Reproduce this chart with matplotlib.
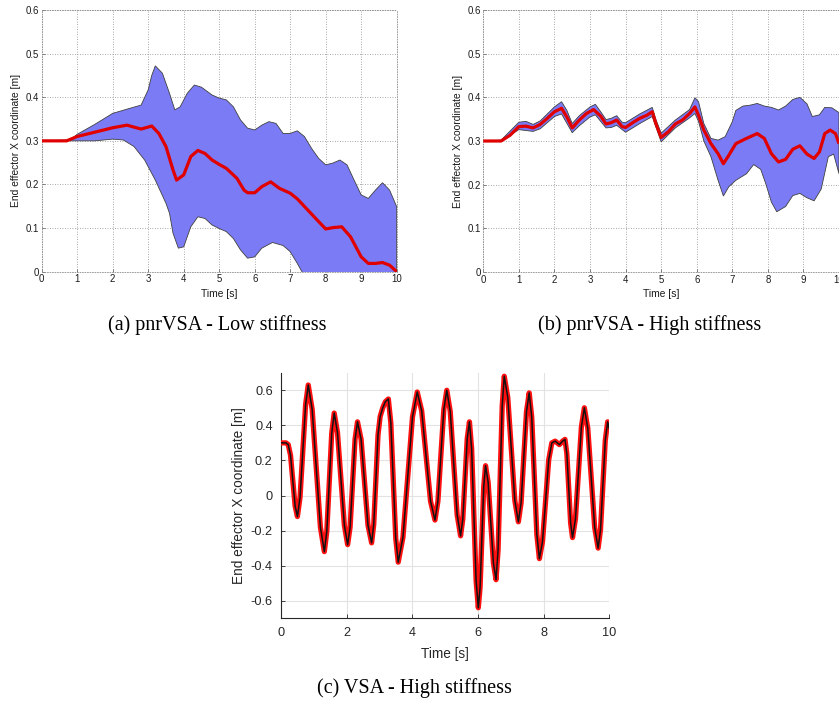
import numpy as np
import matplotlib
matplotlib.use("Agg")
import matplotlib.pyplot as plt

# ---------------- data ----------------
# (a) pnrVSA - Low stiffness
ta_mean = [0, 0.7, 1.0, 1.5, 1.75, 2.0, 2.4, 2.8, 3.1, 3.3, 3.5, 3.7, 3.8, 4.0, 4.2, 4.4, 4.6, 4.8, 5.0, 5.2,
           5.5, 5.7, 5.8, 6.0, 6.2, 6.45, 6.7, 7.0, 7.2, 7.5, 7.8, 8.0, 8.2, 8.45, 8.7, 9.0, 9.2, 9.4, 9.6, 9.8, 10.0]
a_mean = [0.300, 0.300, 0.310, 0.320, 0.325, 0.330, 0.336, 0.327, 0.334, 0.317, 0.287, 0.233, 0.210, 0.222, 0.264,
          0.278, 0.271, 0.256, 0.246, 0.237, 0.214, 0.187, 0.181, 0.181, 0.195, 0.206, 0.191, 0.180, 0.167, 0.141,
          0.115, 0.098, 0.101, 0.103, 0.080, 0.034, 0.019, 0.019, 0.021, 0.015, 0.000]
ta_up = [0, 0.8, 1.0, 1.5, 2.0, 2.5, 2.8, 3.0, 3.1, 3.2, 3.4, 3.6, 3.75, 3.9, 4.1, 4.3, 4.5, 4.8, 5.0, 5.2, 5.4,
         5.6, 5.8, 6.0, 6.2, 6.4, 6.6, 6.8, 7.0, 7.2, 7.4, 7.6, 7.8, 8.0, 8.2, 8.4, 8.6, 8.8, 9.0, 9.2, 9.4, 9.6,
         9.8, 10.0]
a_up = [0.300, 0.302, 0.315, 0.338, 0.363, 0.375, 0.382, 0.417, 0.450, 0.472, 0.455, 0.409, 0.371, 0.378, 0.409,
        0.428, 0.423, 0.405, 0.398, 0.394, 0.378, 0.348, 0.329, 0.325, 0.336, 0.344, 0.340, 0.317, 0.317, 0.323,
        0.310, 0.283, 0.260, 0.245, 0.249, 0.256, 0.245, 0.210, 0.176, 0.168, 0.187, 0.204, 0.187, 0.149]
ta_lo = [0, 1.5, 2.0, 2.3, 2.6, 2.9, 3.2, 3.5, 3.6, 3.7, 3.85, 4.0, 4.2, 4.4, 4.6, 4.8, 5.0, 5.2, 5.4, 5.6, 5.8,
         6.0, 6.2, 6.5, 6.8, 7.0, 7.2, 7.4, 7.7, 8.0, 8.5, 9.0, 9.5, 10.0]
a_lo = [0.300, 0.300, 0.304, 0.302, 0.287, 0.256, 0.210, 0.157, 0.134, 0.088, 0.054, 0.057, 0.103, 0.126, 0.122,
        0.107, 0.099, 0.092, 0.076, 0.050, 0.031, 0.034, 0.054, 0.067, 0.060, 0.046, 0.019, -0.010, -0.040,
        -0.070, -0.080, -0.100, -0.110, -0.120]

# (b) pnrVSA - High stiffness
tb_mean = [0, 0.5, 0.75, 1.0, 1.2, 1.4, 1.6, 1.8, 2.0, 2.2, 2.35, 2.5, 2.7, 2.9, 3.1, 3.3, 3.45, 3.6, 3.75, 3.9,
           4.0, 4.2, 4.4, 4.6, 4.75, 4.85, 5.0, 5.2, 5.4, 5.6, 5.8, 5.95, 6.05, 6.2, 6.4, 6.6, 6.75, 6.9, 7.1,
           7.4, 7.7, 7.9, 8.1, 8.3, 8.5, 8.7, 8.9, 9.1, 9.3, 9.45, 9.6, 9.75, 9.9, 10.0]
b_mean = [0.300, 0.300, 0.313, 0.333, 0.334, 0.330, 0.338, 0.352, 0.367, 0.375, 0.355, 0.330, 0.348, 0.363,
          0.372, 0.357, 0.339, 0.342, 0.348, 0.333, 0.331, 0.342, 0.352, 0.359, 0.367, 0.340, 0.308, 0.321,
          0.339, 0.348, 0.363, 0.378, 0.359, 0.325, 0.294, 0.271, 0.248, 0.267, 0.294, 0.306, 0.317, 0.306,
          0.271, 0.252, 0.258, 0.281, 0.289, 0.270, 0.260, 0.275, 0.317, 0.325, 0.317, 0.294]
tb_up = [0, 0.5, 1.0, 1.2, 1.4, 1.6, 2.0, 2.2, 2.35, 2.5, 2.7, 3.0, 3.15, 3.3, 3.45, 3.6, 3.75, 3.9, 4.0, 4.4,
         4.75, 4.85, 5.0, 5.4, 5.8, 5.95, 6.05, 6.2, 6.4, 6.6, 6.8, 7.0, 7.1, 7.3, 7.5, 7.7, 7.9, 8.1, 8.3, 8.5,
         8.7, 8.9, 9.1, 9.25, 9.45, 9.6, 9.8, 10.0]
b_up = [0.300, 0.302, 0.343, 0.345, 0.338, 0.346, 0.378, 0.390, 0.370, 0.340, 0.358, 0.378, 0.384, 0.367, 0.349,
        0.352, 0.358, 0.343, 0.342, 0.362, 0.377, 0.350, 0.318, 0.348, 0.372, 0.399, 0.390, 0.340, 0.306, 0.302,
        0.310, 0.344, 0.370, 0.380, 0.382, 0.386, 0.380, 0.377, 0.371, 0.380, 0.395, 0.400, 0.385, 0.356, 0.360,
        0.377, 0.376, 0.365]
tb_lo = [0, 0.5, 1.0, 1.4, 1.6, 2.0, 2.2, 2.5, 2.7, 3.0, 3.15, 3.45, 3.6, 3.75, 4.0, 4.4, 4.75, 5.0, 5.4, 5.8,
         5.95, 6.05, 6.2, 6.4, 6.6, 6.75, 6.9, 7.1, 7.4, 7.6, 7.8, 7.95, 8.1, 8.25, 8.5, 8.7, 8.9, 9.1, 9.3, 9.5,
         9.7, 9.85, 10.0]
b_lo = [0.300, 0.300, 0.326, 0.322, 0.328, 0.356, 0.362, 0.319, 0.335, 0.355, 0.360, 0.330, 0.331, 0.336, 0.320,
        0.340, 0.356, 0.298, 0.330, 0.353, 0.363, 0.345, 0.300, 0.264, 0.210, 0.174, 0.195, 0.210, 0.225, 0.246,
        0.235, 0.200, 0.160, 0.138, 0.150, 0.175, 0.180, 0.170, 0.163, 0.190, 0.264, 0.270, 0.225]

# (c) VSA - High stiffness
tc = [0.00, 0.15, 0.22, 0.29, 0.36, 0.43, 0.50, 0.58, 0.665, 0.75, 0.83, 0.95, 1.075, 1.20, 1.32, 1.395, 1.47,
      1.545, 1.62, 1.72, 1.825, 1.93, 2.03, 2.105, 2.18, 2.255, 2.33, 2.44, 2.545, 2.65, 2.76, 2.825, 2.89, 2.955,
      3.02, 3.10, 3.18, 3.27, 3.345, 3.42, 3.495, 3.57, 3.715, 3.86, 4.005, 4.15, 4.285, 4.42, 4.555, 4.69, 4.78,
      4.87, 4.96, 5.05, 5.155, 5.26, 5.365, 5.47, 5.5375, 5.605, 5.6725, 5.74, 5.8075, 5.875, 5.9425, 6.01, 6.065,
      6.12, 6.175, 6.23, 6.31, 6.39, 6.47, 6.55, 6.6125, 6.675, 6.7375, 6.80, 6.9075, 7.015, 7.1225, 7.23, 7.3125,
      7.395, 7.4775, 7.56, 7.6375, 7.715, 7.7925, 7.87, 7.965, 8.06, 8.155, 8.25, 8.35, 8.48, 8.58, 8.65, 8.7075,
      8.765, 8.8225, 8.88, 8.97, 9.06, 9.15, 9.24, 9.345, 9.45, 9.555, 9.66, 9.7325, 9.805, 9.8775, 9.95, 10.0]
cx = [0.30, 0.30, 0.29, 0.23, 0.085, -0.06, -0.12, -0.01, 0.255, 0.52, 0.63, 0.49, 0.155, -0.18, -0.32, -0.205,
      0.075, 0.355, 0.47, 0.36, 0.095, -0.17, -0.28, -0.18, 0.07, 0.32, 0.42, 0.32, 0.075, -0.17, -0.27, -0.165,
      0.09, 0.345, 0.45, 0.50, 0.535, 0.55, 0.414, 0.085, -0.244, -0.38, -0.238, 0.105, 0.448, 0.59, 0.483, 0.225,
      -0.033, -0.14, -0.032, 0.23, 0.492, 0.60, 0.479, 0.185, -0.109, -0.23, -0.135, 0.095, 0.325, 0.42, 0.265,
      -0.11, -0.485, -0.64, -0.522, -0.235, 0.052, 0.17, 0.075, -0.155, -0.385, -0.48, -0.31, 0.10, 0.51, 0.68,
      0.559, 0.265, -0.029, -0.15, -0.043, 0.218, 0.478, 0.585, 0.447, 0.113, -0.222, -0.36, -0.264, -0.03, 0.204,
      0.30, 0.31, 0.29, 0.31, 0.32, 0.238, 0.04, -0.158, -0.24, -0.132, 0.13, 0.392, 0.50, 0.383, 0.10, -0.183,
      -0.30, -0.195, 0.06, 0.315, 0.42, 0.38]

xticks_top = list(range(0, 11))
yticks_top = [0, 0.1, 0.2, 0.3, 0.4, 0.5, 0.6]
ytick_labels_top = ["0", "0.1", "0.2", "0.3", "0.4", "0.5", "0.6"]
xticks_c = [0, 2, 4, 6, 8, 10]
yticks_c = [-0.6, -0.4, -0.2, 0, 0.2, 0.4, 0.6]
ytick_labels_c = ["-0.6", "-0.4", "-0.2", "0", "0.2", "0.4", "0.6"]

captions = ["(a) pnrVSA - Low stiffness", "(b) pnrVSA - High stiffness", "(c) VSA - High stiffness"]
xlabel = "Time [s]"
ylabel = "End effector X coordinate [m]"

# ---------------- figure ----------------
W, H = 839, 702
fig = plt.figure(figsize=(W / 100, H / 100), dpi=100)
plt.rcParams['font.family'] = ['Liberation Sans', 'DejaVu Sans']


def px_axes(left, top, right, bottom):
    return fig.add_axes([left / W, 1 - bottom / H, (right - left) / W, (bottom - top) / H])


FILL = '#7b7bf6'
RED = '#e00000'
TXT = '#1a1a1a'
DOT = (0, (1, 2))


def top_panel(ax, t_up, up, t_lo, lo, t_m, m):
    poly_x = list(t_up) + list(t_lo[::-1])
    poly_y = list(up) + list(lo[::-1])
    ax.fill(poly_x, poly_y, facecolor=FILL, edgecolor='#404040', linewidth=0.6, zorder=2)
    ax.plot(t_m, m, color=RED, lw=2.3, zorder=3, solid_capstyle='butt')
    ax.set_xlim(0, 10)
    ax.set_ylim(0, 0.6)
    ax.set_xticks(xticks_top)
    ax.set_yticks(yticks_top)
    ax.set_yticklabels(ytick_labels_top)
    ax.grid(True, linestyle=DOT, color='#8c8c8c', linewidth=0.6, zorder=1)
    ax.set_axisbelow(True)
    ax.tick_params(direction='in', length=2.5, width=0.5, labelsize=6.9, colors=TXT, pad=2)
    ax.tick_params(color='#555555')
    for s in ax.spines.values():
        s.set_linewidth(0.6)
        s.set_color('#8c8c8c')
        s.set_linestyle(DOT)
    ax.set_xlabel(xlabel, fontsize=7.4, labelpad=3, color=TXT)
    ax.set_ylabel(ylabel, fontsize=7.4, labelpad=3, color=TXT)


ax_a = px_axes(41.7, 10, 396.7, 271.7)
top_panel(ax_a, ta_up, a_up, ta_lo, a_lo, ta_mean, a_mean)

ax_b = px_axes(483.3, 10, 839.0, 272)
top_panel(ax_b, tb_up, b_up, tb_lo, b_lo, tb_mean, b_mean)

ax_c = px_axes(281, 372.7, 609.3, 618.3)
ax_c.plot(tc, cx, color='#ff1010', lw=3.8, zorder=3, solid_joinstyle='round')
ax_c.plot(tc, cx, color='#111111', lw=1.1, zorder=4, solid_joinstyle='round')
ax_c.set_xlim(0, 10)
ax_c.set_ylim(-0.7, 0.7)
ax_c.set_xticks(xticks_c)
ax_c.set_yticks(yticks_c)
ax_c.set_yticklabels(ytick_labels_c)
ax_c.grid(True, color='#e3e3e3', linewidth=0.8, zorder=0)
ax_c.set_axisbelow(True)
ax_c.spines['top'].set_visible(False)
ax_c.spines['right'].set_visible(False)
for s in ['left', 'bottom']:
    ax_c.spines[s].set_linewidth(0.8)
    ax_c.spines[s].set_color('#262626')
ax_c.tick_params(direction='in', length=3, width=0.6, labelsize=9.2, colors='#262626', pad=6)
ax_c.set_xlabel(xlabel, fontsize=9.8, color='#262626', labelpad=6)
ax_c.set_ylabel(ylabel, fontsize=9.8, color='#262626', labelpad=3)

cap_font = dict(family=['Liberation Serif', 'DejaVu Serif'], fontsize=14.5, color='black',
                ha='center', va='center')
fig.text(217 / W, 1 - 325 / H, captions[0], **cap_font)
fig.text(650 / W, 1 - 325 / H, captions[1], **cap_font)
fig.text(414 / W, 1 - 688 / H, captions[2], **cap_font)

fig.savefig('out.png', dpi=100)
